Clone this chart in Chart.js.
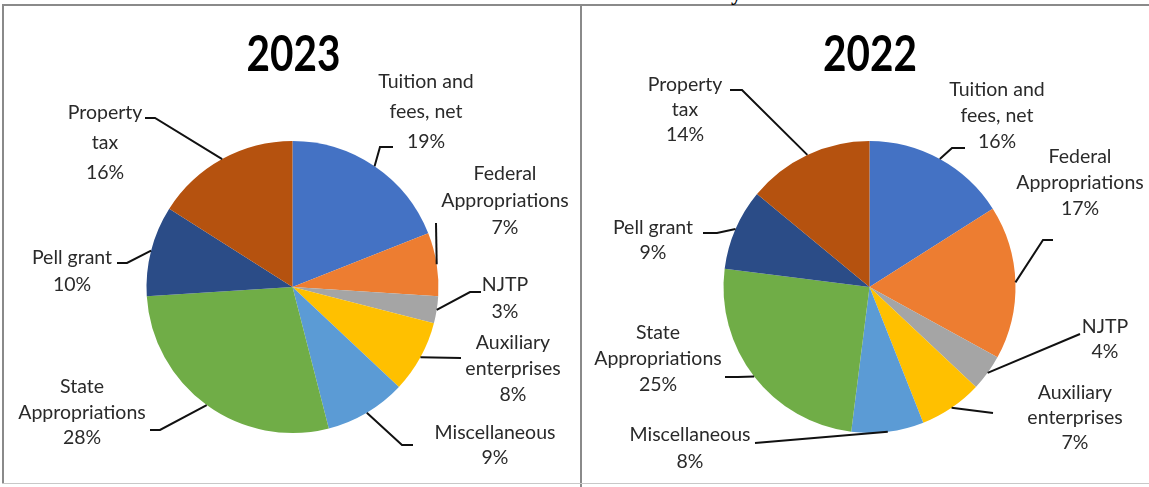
<!DOCTYPE html>
<html>
<head>
<meta charset="utf-8">
<script src="https://cdn.jsdelivr.net/npm/chart.js@4.4.1/dist/chart.umd.min.js"></script>
<style>
  html, body { margin: 0; padding: 0; background: #fff; }
  #wrap { position: relative; width: 1149px; height: 487px; overflow: hidden; }
  #wrap canvas { position: absolute; top: 0; }
  .ln { position: absolute; background: #8a8a8a; }
  #cut { position: absolute; left: 731px; top: -18px; font: bold 22px "Liberation Serif"; line-height: 22px; color: #000; }
</style>
</head>
<body>
<div id="wrap">
  <div class="ln" style="left:2px;top:4px;width:1147px;height:2px"></div>
  <div class="ln" style="left:2px;top:4px;width:2px;height:480px"></div>
  <div class="ln" style="left:580px;top:4px;width:2px;height:483px"></div>
  <div class="ln" style="left:2px;top:483px;width:1147px;height:1px;background:#c8c8c8"></div>
  <div id="cut">y</div>
  <canvas id="pie2023" width="580" height="487" style="left:0"></canvas>
  <canvas id="pie2022" width="567" height="487" style="left:582px"></canvas>
</div>
<script>
// data
const categories = ["Tuition and\nfees, net", "Federal\nAppropriations", "NJTP", "Auxiliary\nenterprises",
  "Miscellaneous", "State\nAppropriations", "Pell grant", "Property\ntax"];
const values2023 = [19, 7, 3, 8, 9, 28, 10, 16];
const values2022 = [16, 17, 4, 7, 8, 25, 9, 14];
const sliceColors = ["#4472C4", "#ED7D31", "#A5A5A5", "#FFC000", "#5B9BD5", "#70AD47", "#2B4C87", "#B5520F"];

// where each data label sits (page coordinates), and the bend of its leader line
const layout2023 = [
  { x: 426, y: 82, lh: 30, elbow: [380, 147], end: [393, 147] },
  { x: 505, y: 174, lh: 27, elbow: null, end: [436, 223] },
  { x: 505, y: 285, lh: 27, elbow: [470, 292], end: [481, 292] },
  { x: 513, y: 343, lh: 26, elbow: null, end: [461, 358] },
  { x: 495, y: 433, lh: 25, elbow: [402, 445], end: [413, 445] },
  { x: 82, y: 387, lh: 25.5, elbow: [160, 430], end: [150, 430] },
  { x: 72, y: 258, lh: 27, elbow: [127, 263], end: [117, 263] },
  { x: 105, y: 113, lh: 30, elbow: [155, 118], end: [145, 118] }
];
const layout2022 = [
  { x: 997, y: 90, lh: 26, elbow: [952, 148], end: [965, 148] },
  { x: 1080, y: 157, lh: 26, elbow: [1043, 240], end: [1053, 240] },
  { x: 1105, y: 327, lh: 25, elbow: null, end: [1080, 334] },
  { x: 1075, y: 393, lh: 25, elbow: null, end: [993, 413] },
  { x: 690, y: 435, lh: 27, elbow: null, end: [755, 443] },
  { x: 658, y: 333, lh: 26, elbow: [738, 377], end: [725, 377] },
  { x: 653, y: 228, lh: 25, elbow: [717, 233], end: [703, 233] },
  { x: 685, y: 85, lh: 25, elbow: [742, 90], end: [730, 90] }
];

// draws title, leader lines and labels on top of the pie
const pieLabels = {
  id: 'pieLabels',
  afterDraw(chart, args, opts) {
    const ctx = chart.ctx;
    const dx = opts.offsetX;
    const arcs = chart.getDatasetMeta(0).data;
    const values = chart.data.datasets[0].data;

    ctx.save();
    ctx.fillStyle = '#000';
    ctx.font = 'bold 44px Lato';
    ctx.textAlign = 'center';
    ctx.textBaseline = 'middle';
    ctx.translate(opts.titleX - dx, opts.titleY);
    ctx.scale(0.92, 1.12);
    ctx.fillText(opts.title, 0, 0);
    ctx.restore();

    ctx.save();
    ctx.strokeStyle = '#111';
    ctx.lineWidth = 2;
    ctx.lineJoin = 'miter';
    arcs.forEach((arc, i) => {
      const p = opts.layout[i];
      const mid = (arc.startAngle + arc.endAngle) / 2;
      ctx.beginPath();
      ctx.moveTo(arc.x + Math.cos(mid) * arc.outerRadius, arc.y + Math.sin(mid) * arc.outerRadius);
      if (p.elbow) ctx.lineTo(p.elbow[0] - dx, p.elbow[1]);
      ctx.lineTo(p.end[0] - dx, p.end[1]);
      ctx.stroke();
    });

    ctx.fillStyle = '#2a2a2a';
    ctx.font = '19.5px Lato';
    ctx.textAlign = 'center';
    ctx.textBaseline = 'middle';
    chart.data.labels.forEach((label, i) => {
      const p = opts.layout[i];
      const lines = label.split('\n').concat([values[i] + '%']);
      lines.forEach((t, k) => ctx.fillText(t, p.x - dx, p.y + k * p.lh));
    });
    ctx.restore();
  }
};

function makePie(id, values, title, layout, offsetX, titleX, pad) {
  return new Chart(document.getElementById(id), {
    type: 'pie',
    data: {
      labels: categories,
      datasets: [{
        data: values,
        backgroundColor: sliceColors,
        borderWidth: 0
      }]
    },
    options: {
      responsive: false,
      animation: false,
      layout: { padding: pad },
      plugins: {
        legend: { display: false },
        tooltip: { enabled: false },
        pieLabels: { title: title, layout: layout, offsetX: offsetX, titleX: titleX, titleY: 55 }
      }
    },
    plugins: [pieLabels]
  });
}

makePie('pie2023', values2023, '2023', layout2023, 0, 293.5,
  { left: 146.5, right: 141.5, top: 141, bottom: 54 });
makePie('pie2022', values2022, '2022', layout2022, 582, 870,
  { left: 141.5, right: 133.5, top: 141, bottom: 54 });
</script>
</body>
</html>
